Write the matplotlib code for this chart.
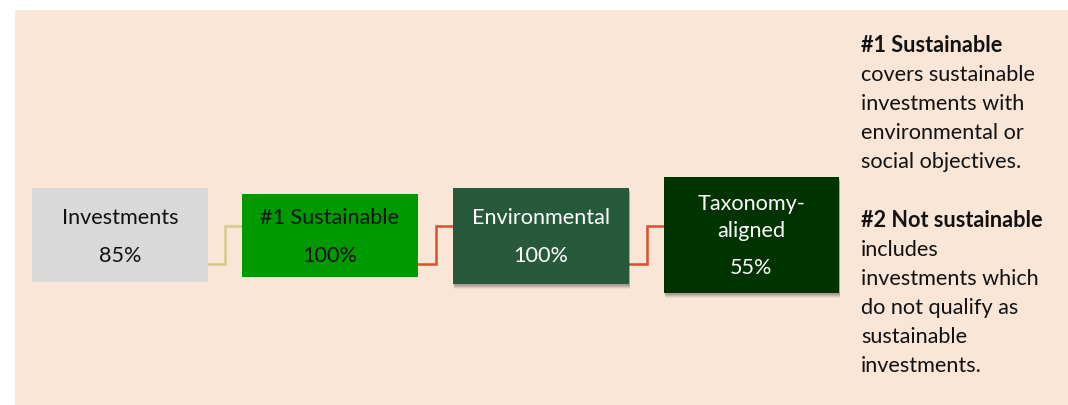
#!/usr/bin/env python3
"""Asset allocation flow diagram: Investments -> #1 Sustainable -> Environmental -> Taxonomy-aligned."""

import matplotlib
matplotlib.use("Agg")
import matplotlib.pyplot as plt
from matplotlib.patches import Rectangle

# --- Data ---
box_labels = ["Investments", "#1 Sustainable", "Environmental", "Taxonomy-\naligned"]
box_values = [85, 100, 100, 55]
note_titles = ["#1 Sustainable", "#2 Not sustainable"]
note_bodies = [
    ["covers sustainable", "investments with", "environmental or", "social objectives."],
    ["includes", "investments which", "do not qualify as", "sustainable", "investments."],
]

# --- Layout (pixels, y down) ---
W, H = 1068, 405
box_x = [32, 242, 453, 664]
box_w = [176, 176, 176, 175]
box_y = [188, 194, 188, 177]
box_h = [94, 83, 96, 116]
box_face = ["#d9d9d9", "#009900", "#265a3b", "#003300"]
box_text = ["#111111", "#111111", "#ffffff", "#ffffff"]
box_shadow = [False, False, True, True]
link_colors = ["#d8ca8c", "#d4522e", "#d4522e"]
link_low, link_high = 264, 226

FONT = ["Lato", "DejaVu Sans"]
FS = 15.6

fig = plt.figure(figsize=(W / 100, H / 100), dpi=100)
ax = fig.add_axes([0, 0, 1, 1])
ax.set_xlim(0, W)
ax.set_ylim(H, 0)
ax.axis("off")

# peach background panel
ax.add_patch(Rectangle((15, 10), W - 15, H - 10, facecolor="#f9e6d6", edgecolor="none", zorder=0))

# connectors (elbow lines between boxes)
for i, c in enumerate(link_colors):
    x0 = box_x[i] + box_w[i]
    x1 = box_x[i + 1]
    xm = x0 + (x1 - x0) / 2
    ax.plot([x0, xm, xm, x1], [link_low, link_low, link_high, link_high],
            color=c, lw=1.8, solid_joinstyle="miter", zorder=1)

# boxes
for i, (label, val) in enumerate(zip(box_labels, box_values)):
    x, y, w, h = box_x[i], box_y[i], box_w[i], box_h[i]
    if box_shadow[i]:
        for k, a in [(5, 0.05), (4, 0.07), (3, 0.09), (2, 0.12)]:
            ax.add_patch(Rectangle((x + 1, y + k), w, h, facecolor="black",
                                   alpha=a, edgecolor="none", zorder=2))
    ax.add_patch(Rectangle((x, y), w, h, facecolor=box_face[i], edgecolor="none", zorder=3))
    cx = x + w / 2
    lines = label.split("\n")
    if len(lines) == 1:
        ax.text(cx, 224, lines[0], ha="center", va="baseline", fontsize=FS,
                family=FONT, color=box_text[i], zorder=4)
        ax.text(cx, 262, f"{val}%", ha="center", va="baseline", fontsize=FS,
                family=FONT, color=box_text[i], zorder=4)
    else:
        ax.text(cx, 210, lines[0], ha="center", va="baseline", fontsize=FS,
                family=FONT, color=box_text[i], zorder=4)
        ax.text(cx, 237, lines[1], ha="center", va="baseline", fontsize=FS,
                family=FONT, color=box_text[i], zorder=4)
        ax.text(cx, 274, f"{val}%", ha="center", va="baseline", fontsize=FS,
                family=FONT, color=box_text[i], zorder=4)

# explanatory notes on the right
note_x = 861
note_top = [52, 227]
step = 29
for title, body, y0 in zip(note_titles, note_bodies, note_top):
    ax.text(note_x, y0, title, ha="left", va="baseline", fontsize=FS,
            family=FONT, fontweight="bold", color="#111111")
    for j, line in enumerate(body):
        ax.text(note_x, y0 + step * (j + 1), line, ha="left", va="baseline",
                fontsize=FS, family=FONT, color="#111111")

fig.savefig("out.png", dpi=100, facecolor="white")
plt.close("all")
